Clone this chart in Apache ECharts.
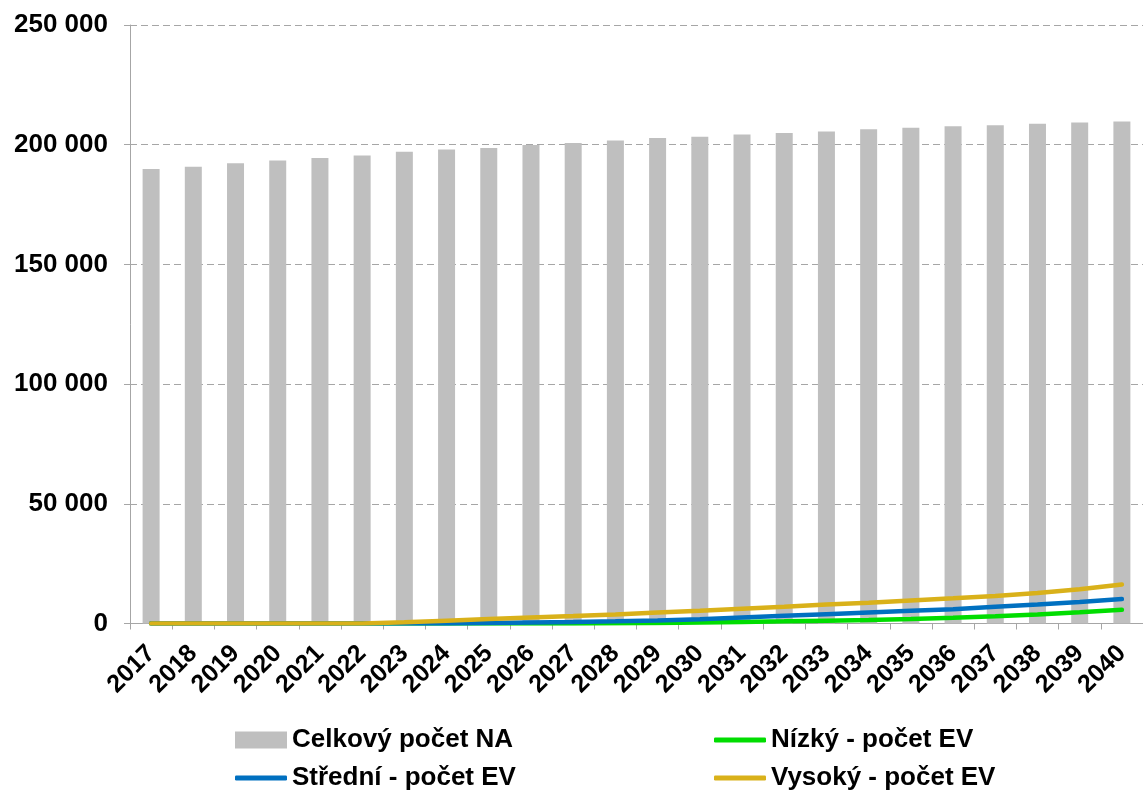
<!DOCTYPE html>
<html>
<head>
<meta charset="utf-8">
<script src="https://cdn.jsdelivr.net/npm/echarts@6/dist/echarts.min.js"></script>
<style>
html,body{margin:0;padding:0;background:#fff;}
#chart{width:1143px;height:796px;}
</style>
</head>
<body>
<div id="chart"></div>
<script>
const years = ['2017','2018','2019','2020','2021','2022','2023','2024','2025','2026','2027','2028','2029','2030','2031','2032','2033','2034','2035','2036','2037','2038','2039','2040'];
const celkovy = [189800,190800,192300,193400,194400,195500,197100,198000,198600,199900,200700,201800,202800,203300,204300,204900,205500,206500,207100,207700,208100,208700,209300,209700];
const nizky = [0,0,0,0,0,0,0,0,0,0,0,100,250,400,650,900,1200,1500,1900,2400,3000,3800,4700,5700];
const stredni = [0,0,0,0,0,0,0,0,200,400,600,900,1300,1800,2500,3200,3900,4600,5300,6000,7000,7900,9000,10200];
const vysoky = [0,0,0,0,0,0,500,1200,1900,2500,3100,3800,4600,5300,6200,7000,7900,8700,9600,10500,11500,12700,14300,16300];
const names = ['Celkový počet NA','Nízký - počet EV','Střední - počet EV','Vysoký - počet EV'];

const FONT = 'Liberation Sans, Arial, sans-serif';
const chart = echarts.init(document.getElementById('chart'));
function fmt(v){ return String(v).replace(/\B(?=(\d{3})+(?!\d))/g,' '); }
const legendText = {fontFamily:FONT,fontWeight:'bold',fontSize:26,color:'#000'};
function lg(name,left,top,isBar){
  return {
    show:true, left:left, top:top, padding:0, itemGap:0,
    itemWidth:52, itemHeight:isBar?17:5,
    icon:isBar?'rect':'roundRect',
    data:[name], textStyle:legendText, selectedMode:false
  };
}
chart.setOption({
  animation:false,
  backgroundColor:'#fff',
  grid:{left:130, top:25, width:1023, height:598.5, containLabel:false},
  legend:[
    lg(names[0],235,727,true),
    lg(names[1],714,727,false),
    lg(names[2],235,765,false),
    lg(names[3],714,765,false)
  ],
  xAxis:{
    type:'category', data:years, boundaryGap:true,
    axisLine:{lineStyle:{color:'#a6a6a6',width:1}},
    axisTick:{show:true,length:6,lineStyle:{color:'#a6a6a6'}},
    axisLabel:{rotate:45,margin:26,interval:0,fontFamily:FONT,fontWeight:'bold',fontSize:25,color:'#000'}
  },
  yAxis:{
    type:'value', min:0, max:250000, interval:50000,
    axisLine:{show:true,lineStyle:{color:'#a6a6a6',width:1}},
    axisTick:{show:true,length:6,lineStyle:{color:'#a6a6a6'}},
    splitLine:{show:true,lineStyle:{color:'#a6a6a6',type:[7,4],width:1}},
    axisLabel:{margin:22,formatter:fmt,fontFamily:FONT,fontWeight:'bold',fontSize:26,color:'#000'}
  },
  series:[
    {name:names[0],type:'bar',data:celkovy,barWidth:17,itemStyle:{color:'#bfbfbf'}},
    {name:names[1],type:'line',data:nizky,showSymbol:false,symbol:'none',lineStyle:{color:'#00dd00',width:4.5,cap:'round'},itemStyle:{color:'#00dd00'}},
    {name:names[2],type:'line',data:stredni,showSymbol:false,symbol:'none',lineStyle:{color:'#0070c0',width:4.5,cap:'round'},itemStyle:{color:'#0070c0'}},
    {name:names[3],type:'line',data:vysoky,showSymbol:false,symbol:'none',lineStyle:{color:'#d9b11a',width:4.5,cap:'round'},itemStyle:{color:'#d9b11a'}}
  ]
});
</script>
</body>
</html>
